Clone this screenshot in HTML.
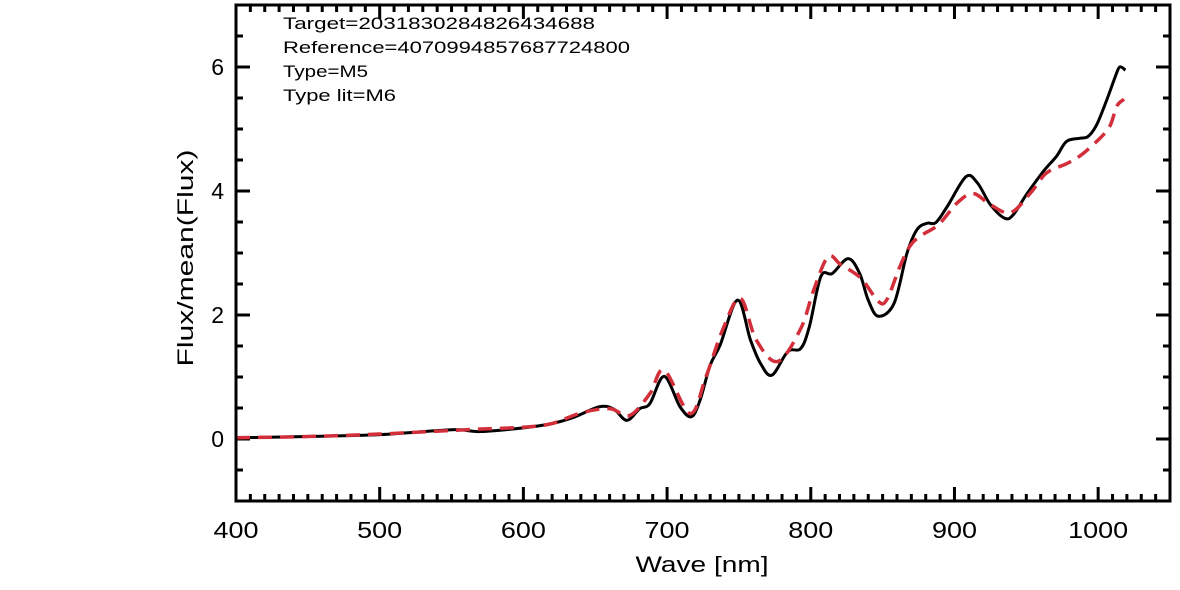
<!DOCTYPE html>
<html><head><meta charset="utf-8"><style>
body{margin:0;background:#fff;}
svg{display:block;font-family:"Liberation Sans",sans-serif;}
</style></head><body>
<svg id="chart" width="1180" height="590" viewBox="0 0 1180 590" xmlns="http://www.w3.org/2000/svg">
<rect x="0" y="0" width="1180" height="590" fill="#fff"/>
<g id="ticks"></g>
<g id="lines"></g>
<rect x="236" y="5" width="934" height="496" fill="none" stroke="#000" stroke-width="3"/>
<g id="labels" font-size="23" fill="#000"></g>
<text x="702" y="572" font-size="22" text-anchor="middle" textLength="133" lengthAdjust="spacingAndGlyphs">Wave [nm]</text>
<text x="0" y="0" font-size="22" text-anchor="middle" textLength="217" lengthAdjust="spacingAndGlyphs" transform="translate(193,258) rotate(-90)">Flux/mean(Flux)</text>
<g font-size="17">
<text x="283" y="29" textLength="312" lengthAdjust="spacingAndGlyphs">Target=2031830284826434688</text>
<text x="283" y="53" textLength="347" lengthAdjust="spacingAndGlyphs">Reference=4070994857687724800</text>
<text x="283" y="77" textLength="85" lengthAdjust="spacingAndGlyphs">Type=M5</text>
<text x="283" y="101" textLength="113" lengthAdjust="spacingAndGlyphs">Type lit=M6</text>
</g>
</svg>
<script>
const xTicks=[400,500,600,700,800,900,1000];
const yTicks=[0,2,4,6];
const targetWave=[400,450,500,550,570,600,620,635,653,663,672,681,688,698,709,717,723,730,737,749,758,765,773,784,793,799,807,815,826,834,840,847,858,867,874,881,887,895,908,916,925,935,941,950,962,971,978,987,993,999,1006,1012,1015,1019];
const targetFlux=[0.02,0.04,0.07,0.15,0.12,0.18,0.25,0.35,0.52,0.48,0.30,0.49,0.57,1.01,0.52,0.36,0.63,1.19,1.52,2.24,1.6,1.22,1.03,1.41,1.46,1.81,2.62,2.67,2.91,2.67,2.24,1.98,2.19,3.0,3.38,3.48,3.49,3.75,4.23,4.13,3.78,3.56,3.62,3.94,4.32,4.56,4.8,4.85,4.88,5.07,5.47,5.85,6.0,5.95];
const refWave=[400,450,500,560,600,620,640,660,674,688,698,716,727,739,751,762,777,793,802,812,821,835,847,853,862,869,876,889,902,913,925,939,953,964,978,987,999,1008,1013,1018];
const refFlux=[0.02,0.04,0.08,0.15,0.19,0.25,0.42,0.49,0.38,0.73,1.11,0.41,1.0,1.78,2.27,1.6,1.25,1.78,2.40,2.94,2.81,2.59,2.22,2.25,2.78,3.11,3.27,3.46,3.81,3.96,3.78,3.65,3.97,4.29,4.44,4.56,4.8,5.04,5.37,5.48];
const NS="http://www.w3.org/2000/svg";
const X0=236,X1=1170,XMIN=400,XMAX=1050,Y0=501,Y1=5,YMIN=-1,YMAX=7;
function sx(v){return X0+(v-XMIN)/(XMAX-XMIN)*(X1-X0);}
function sy(v){return Y0-(v-YMIN)/(YMAX-YMIN)*(Y0-Y1);}
const tg=document.getElementById('ticks'),lg=document.getElementById('labels'),ln=document.getElementById('lines');
function line(x1,y1,x2,y2,name){const l=document.createElementNS(NS,'line');l.setAttribute('x1',x1);l.setAttribute('y1',y1);l.setAttribute('x2',x2);l.setAttribute('y2',y2);l.setAttribute('stroke','#000');l.setAttribute('stroke-width','3');


tg.appendChild(l);}
for(let v=400;v<=1050;v+=10){const x=sx(v);const m=v%100===0;const L=m?14:7;line(x,Y0,x,Y0-L,'x-tick');line(x,Y1,x,Y1+L,'x-tick-top');}
for(let v=-1;v<=7;v+=0.5){const y=sy(v);const m=(v%2===0);const L=m?14:7;line(X0,y,X0+L,y,'y-tick');line(X1,y,X1-L,y,'y-tick-right');}
xTicks.forEach(v=>{const t=document.createElementNS(NS,'text');t.setAttribute('x',sx(v));t.setAttribute('y',538);t.setAttribute('text-anchor','middle');t.setAttribute('textLength',String(v).length*15);t.setAttribute('lengthAdjust','spacingAndGlyphs');t.textContent=v;


lg.appendChild(t);});
yTicks.forEach(v=>{const t=document.createElementNS(NS,'text');t.setAttribute('x',224);t.setAttribute('y',sy(v)+8);t.setAttribute('text-anchor','end');t.textContent=v;


lg.appendChild(t);});
function path(ws,fs){const p=ws.map((w,i)=>[sx(w),sy(fs[i])]);let d='M'+p[0][0]+','+p[0][1];
for(let i=0;i<p.length-1;i++){const a=p[Math.max(0,i-1)],b=p[i],c=p[i+1],e=p[Math.min(p.length-1,i+2)];
const c1=[b[0]+(c[0]-a[0])/6,b[1]+(c[1]-a[1])/6],c2=[c[0]-(e[0]-b[0])/6,c[1]-(e[1]-b[1])/6];
d+=' C'+c1[0]+','+c1[1]+' '+c2[0]+','+c2[1]+' '+c[0]+','+c[1];}return d;}
const pt=document.createElementNS(NS,'path');pt.setAttribute('d',path(targetWave,targetFlux));pt.setAttribute('fill','none');pt.setAttribute('stroke','#000');pt.setAttribute('stroke-width','3');


ln.appendChild(pt);
const pr=document.createElementNS(NS,'path');pr.setAttribute('d',path(refWave,refFlux));pr.setAttribute('fill','none');pr.setAttribute('stroke','#d22f3b');pr.setAttribute('stroke-width','3.5');pr.setAttribute('stroke-dasharray','14 8');


ln.appendChild(pr);
</script>
</body></html>
